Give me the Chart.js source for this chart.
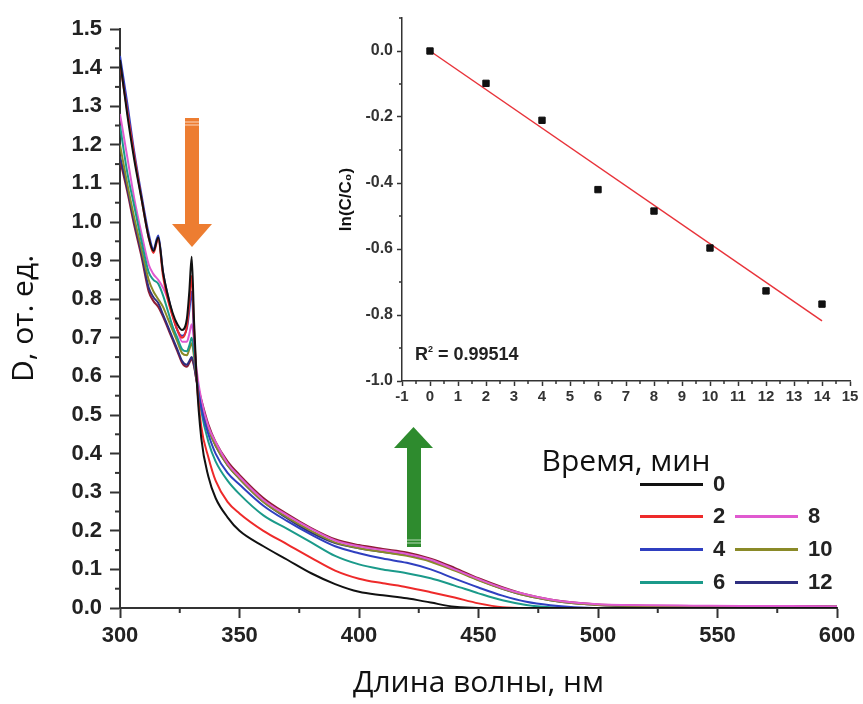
<!DOCTYPE html>
<html>
<head>
<meta charset="utf-8">
<script src="https://cdn.jsdelivr.net/npm/chart.js@4.4.1/dist/chart.umd.min.js"></script>
<style>
  body { margin: 0; background: #fff; }
  #wrap { position: relative; width: 863px; height: 704px; overflow: hidden; }
  #mainChart { position: absolute; left: 0; top: 0; }
  #insetChart { position: absolute; left: 330px; top: 0; }
  #legend { position: absolute; left: 0; top: 0; font: bold 22px "Liberation Sans", Arial, sans-serif; color: #222; }
  .item { position: absolute; display: flex; align-items: center; height: 24px; }
  .item span.ln { display: inline-block; width: 63px; height: 3px; margin-right: 10px; }
  #r2 { position: absolute; left: 415px; top: 344px; font: bold 18px "Liberation Sans", Arial, sans-serif; color: #222; }
  #r2 sup { font-size: 9px; vertical-align: 8px; }
  svg { position: absolute; left: 0; top: 0; }
</style>
</head>
<body>
<div id="wrap">
  <canvas id="mainChart" width="863" height="704"></canvas>
  <canvas id="insetChart" width="533" height="482"></canvas>
  <svg width="863" height="704">
    <!-- orange arrow down -->
    <rect x="185" y="118" width="14" height="107" fill="#ED7D31"/>
    <polygon points="172,224 212,224 192,247" fill="#ED7D31"/>
    <line x1="185" y1="122" x2="199" y2="122" stroke="#fbd9c2" stroke-width="1"/>
    <line x1="185" y1="125" x2="199" y2="125" stroke="#fbd9c2" stroke-width="1"/>
    <!-- green arrow up -->
    <rect x="407" y="447" width="14" height="100" fill="#2E8B2E"/>
    <polygon points="394,448 433,448 413.5,427" fill="#2E8B2E"/>
    <line x1="407" y1="540" x2="421" y2="540" stroke="#b9dbb9" stroke-width="1"/>
    <line x1="407" y1="543" x2="421" y2="543" stroke="#b9dbb9" stroke-width="1"/>
  </svg>
  <div id="r2">R<sup>2</sup> = 0.99514</div>
  <div id="legend"></div>
</div>
<script>
// wavelength grid, nm
const wavelengths = [300,303,306,309,312,314,316,318,320,322,324,326,328,329,330,
  331,332,334,337,340,345,350,
  360,370,380,390,400,410,420,430,440,450,460,470,480,490,500,510,520,
  540,560,580,600];

// absorbance D for each irradiation time (min)
const d0 = [1.42,1.28,1.16,1.06,0.96,0.925,0.96,0.87,0.81,0.765,0.735,0.72,0.75,0.82,0.91,
  0.74,0.60,0.44,0.34,0.285,0.235,0.20,
  0.16,0.125,0.09,0.062,0.042,0.033,0.025,0.014,0.003,0,0,0,0,0,0,0,0,
  0,0,0,0];
const d2 = [1.41,1.29,1.17,1.06,0.96,0.92,0.955,0.86,0.80,0.755,0.72,0.70,0.73,0.79,0.86,
  0.72,0.60,0.47,0.39,0.33,0.275,0.245,
  0.20,0.165,0.13,0.097,0.076,0.064,0.054,0.041,0.027,0.012,0.002,0,0,0,0,0,0,
  0,0,0,0];
const d4 = [1.43,1.31,1.18,1.07,0.97,0.93,0.965,0.87,0.81,0.76,0.72,0.705,0.725,0.77,0.82,
  0.70,0.60,0.52,0.45,0.40,0.35,0.32,
  0.265,0.225,0.19,0.16,0.142,0.128,0.117,0.10,0.076,0.053,0.032,0.016,0.007,0.002,0,0,0,
  0,0,0,0];
const d6 = [1.25,1.13,1.04,0.95,0.87,0.85,0.84,0.81,0.77,0.73,0.70,0.67,0.665,0.68,0.70,
  0.66,0.60,0.51,0.43,0.38,0.33,0.295,
  0.24,0.205,0.17,0.135,0.113,0.10,0.09,0.077,0.058,0.038,0.02,0.008,0.002,0,0,0,0,
  0,0,0,0];
const d8 = [1.28,1.17,1.06,0.97,0.89,0.865,0.85,0.83,0.80,0.76,0.72,0.69,0.69,0.71,0.735,
  0.69,0.62,0.54,0.47,0.43,0.375,0.34,
  0.28,0.24,0.205,0.175,0.16,0.15,0.14,0.125,0.10,0.075,0.052,0.035,0.022,0.014,0.01,0.008,0.007,
  0.006,0.005,0.005,0.004];
const d10 = [1.20,1.10,1.01,0.93,0.85,0.82,0.80,0.78,0.75,0.72,0.69,0.66,0.655,0.67,0.686,
  0.65,0.60,0.53,0.465,0.42,0.37,0.335,
  0.275,0.235,0.20,0.17,0.155,0.145,0.135,0.12,0.097,0.072,0.05,0.032,0.02,0.012,0.008,0.006,0.005,
  0.004,0.004,0.003,0.003];
const d12 = [1.17,1.09,1.00,0.92,0.83,0.805,0.79,0.76,0.73,0.70,0.67,0.64,0.63,0.64,0.65,
  0.63,0.59,0.53,0.465,0.42,0.37,0.335,
  0.275,0.232,0.195,0.168,0.155,0.145,0.137,0.122,0.10,0.073,0.05,0.032,0.02,0.012,0.008,0.005,0.004,
  0.004,0.003,0.003,0.003];
const d14 = [1.16,1.08,0.99,0.91,0.82,0.795,0.78,0.755,0.725,0.695,0.665,0.635,0.625,0.635,0.645,
  0.625,0.59,0.54,0.475,0.43,0.38,0.345,
  0.285,0.243,0.207,0.178,0.163,0.153,0.144,0.128,0.104,0.077,0.054,0.035,0.022,0.014,0.009,0.007,0.006,
  0.005,0.005,0.005,0.004];

const seriesLabels = ['0', '2', '4', '6', '8', '10', '12', '14'];
const seriesData = [d0, d2, d4, d6, d8, d10, d12, d14];
const seriesColors = ['#111111', '#ee2a2a', '#2f3fc0', '#1b9a8a', '#e05ad0', '#8a8a28', '#2e2e80', '#8e1c34'];

const xTicksMain = [300, 350, 400, 450, 500, 550, 600];
const yTicksMain = [0, 0.1, 0.2, 0.3, 0.4, 0.5, 0.6, 0.7, 0.8, 0.9, 1.0, 1.1, 1.2, 1.3, 1.4, 1.5];

// inset: ln(C/C0) vs time
const time = [0, 2, 4, 6, 8, 10, 12, 14];
const lnC = [0, -0.098, -0.21, -0.42, -0.485, -0.597, -0.727, -0.767];
const fitX = [0, 14];
const fitY = [0, -0.818];
const xTicksInset = [-1,0,1,2,3,4,5,6,7,8,9,10,11,12,13,14,15];
const yTicksInset = [-1.0, -0.8, -0.6, -0.4, -0.2, 0.0];

const tickFont = { family: '"Liberation Sans", Arial, sans-serif', weight: 'bold', size: 22 };
const insetFontX = { family: '"Liberation Sans", Arial, sans-serif', weight: 'bold', size: 15 };
const insetFontY = { family: '"Liberation Sans", Arial, sans-serif', weight: 'bold', size: 16 };
const titleFont = { family: '"Open Sans", sans-serif', size: 30 };

// small ticks between labelled ones
const minorTicks = {
    id: 'minorTicks',
    afterDraw(chart, args, opts) {
        const ctx = chart.ctx, a = chart.chartArea;
        const xs = chart.scales.x, ys = chart.scales.y;
        ctx.save();
        ctx.strokeStyle = '#333';
        ctx.lineWidth = opts.width;
        opts.xs.forEach(v => {
            const px = xs.getPixelForValue(v);
            ctx.beginPath(); ctx.moveTo(px, a.bottom); ctx.lineTo(px, a.bottom + opts.len); ctx.stroke();
        });
        opts.ys.forEach(v => {
            const py = ys.getPixelForValue(v);
            ctx.beginPath(); ctx.moveTo(a.left, py); ctx.lineTo(a.left - opts.len, py); ctx.stroke();
        });
        ctx.restore();
    }
};

function range(start, stop, step) {
    const out = [];
    for (let v = start; v <= stop + 1e-9; v += step) out.push(+v.toFixed(3));
    return out;
}

const mainChart = new Chart(document.getElementById('mainChart'), {
    type: 'line',
    data: {
        datasets: seriesData.map((arr, i) => ({
            label: seriesLabels[i],
            data: wavelengths.map((w, j) => ({ x: w, y: arr[j] })),
            borderColor: seriesColors[i],
            borderWidth: 2,
            pointRadius: 0,
            fill: false,
            cubicInterpolationMode: 'monotone'
        }))
    },
    options: {
        responsive: false,
        animation: false,
        layout: { padding: { top: 29, right: 26 } },
        plugins: {
            legend: { display: false },
            tooltip: { enabled: false },
            minorTicks: { xs: range(325, 575, 50), ys: range(0.05, 1.45, 0.1), len: 5, width: 2 }
        },
        scales: {
            x: {
                type: 'linear', min: 300, max: 600,
                afterFit: s => { s.height = 96; },
                afterBuildTicks: s => { s.ticks = xTicksMain.map(v => ({ value: v })); },
                ticks: { font: tickFont, color: '#222', padding: 5, maxRotation: 0 },
                grid: { drawOnChartArea: false, tickLength: 10, tickColor: '#333', tickWidth: 2 },
                border: { color: '#333', width: 2 },
                title: {
                    display: true, text: 'Длина волны, нм', color: '#111',
                    font: titleFont,
                    padding: { top: 0, bottom: 3 }
                }
            },
            y: {
                min: 0, max: 1.5,
                afterFit: s => { s.width = 120; },
                afterBuildTicks: s => { s.ticks = yTicksMain.map(v => ({ value: v })); },
                ticks: { font: tickFont, color: '#222', padding: 8, callback: v => v.toFixed(1) },
                grid: { drawOnChartArea: false, tickLength: 10, tickColor: '#333', tickWidth: 2 },
                border: { color: '#333', width: 2 },
                title: {
                    display: true, text: 'D, от. ед.', color: '#111',
                    font: titleFont,
                    padding: { top: 6, bottom: 0 }
                }
            }
        }
    },
    plugins: [minorTicks]
});

new Chart(document.getElementById('insetChart'), {
    type: 'scatter',
    data: {
        datasets: [
            {
                label: 'ln(C/C0)',
                data: time.map((t, i) => ({ x: t, y: lnC[i] })),
                pointStyle: 'rect', pointRadius: 4.5,
                backgroundColor: '#111', borderColor: '#111'
            },
            {
                type: 'line',
                label: 'fit',
                data: fitX.map((t, i) => ({ x: t, y: fitY[i] })),
                borderColor: '#e8333a', borderWidth: 1.5, pointRadius: 0, fill: false
            }
        ]
    },
    options: {
        responsive: false,
        animation: false,
        layout: { padding: { top: 18, right: 13 } },
        plugins: {
            legend: { display: false },
            tooltip: { enabled: false },
            minorTicks: { xs: range(-0.5, 14.5, 1), ys: range(-0.9, 0.1, 0.2), len: 3, width: 1.5 }
        },
        scales: {
            x: {
                type: 'linear', min: -1, max: 15,
                afterFit: s => { s.height = 101; },
                afterBuildTicks: s => { s.ticks = xTicksInset.map(v => ({ value: v })); },
                ticks: { font: insetFontX, color: '#333', padding: 2, maxRotation: 0, autoSkip: false },
                grid: { drawOnChartArea: false, tickLength: 5, tickColor: '#333', tickWidth: 1.5 },
                border: { color: '#333', width: 1.5 },
                title: {
                    display: true, text: 'Время, мин', color: '#111',
                    font: titleFont,
                    padding: { top: 0, bottom: 2 }
                }
            },
            y: {
                min: -1.0, max: 0.1,
                afterFit: s => { s.width = 72; },
                afterBuildTicks: s => { s.ticks = yTicksInset.map(v => ({ value: v })); },
                ticks: { font: insetFontY, color: '#333', padding: 4, callback: v => v.toFixed(1) },
                grid: { drawOnChartArea: false, tickLength: 5, tickColor: '#333', tickWidth: 1.5 },
                border: { color: '#333', width: 1.5 },
                title: {
                    display: true, text: 'ln(C/C₀)', color: '#111',
                    font: { family: '"Liberation Sans", Arial, sans-serif', weight: 'bold', size: 17 },
                    padding: { top: 6, bottom: 0 }
                }
            }
        }
    },
    plugins: [minorTicks]
});

// two-column legend, from the main chart's datasets (14 min curve is not listed)
const legendPos = [
    [640, 472], [640, 504], [640, 537], [640, 570],
    [735, 504], [735, 537], [735, 570]
];
const legend = document.getElementById('legend');
mainChart.data.datasets.slice(0, 7).forEach((ds, i) => {
    const el = document.createElement('div');
    el.className = 'item';
    el.style.left = legendPos[i][0] + 'px';
    el.style.top = legendPos[i][1] + 'px';
    el.innerHTML = '<span class="ln" style="background:' + ds.borderColor + '"></span>' + ds.label;
    legend.appendChild(el);
});
</script>
</body>
</html>
